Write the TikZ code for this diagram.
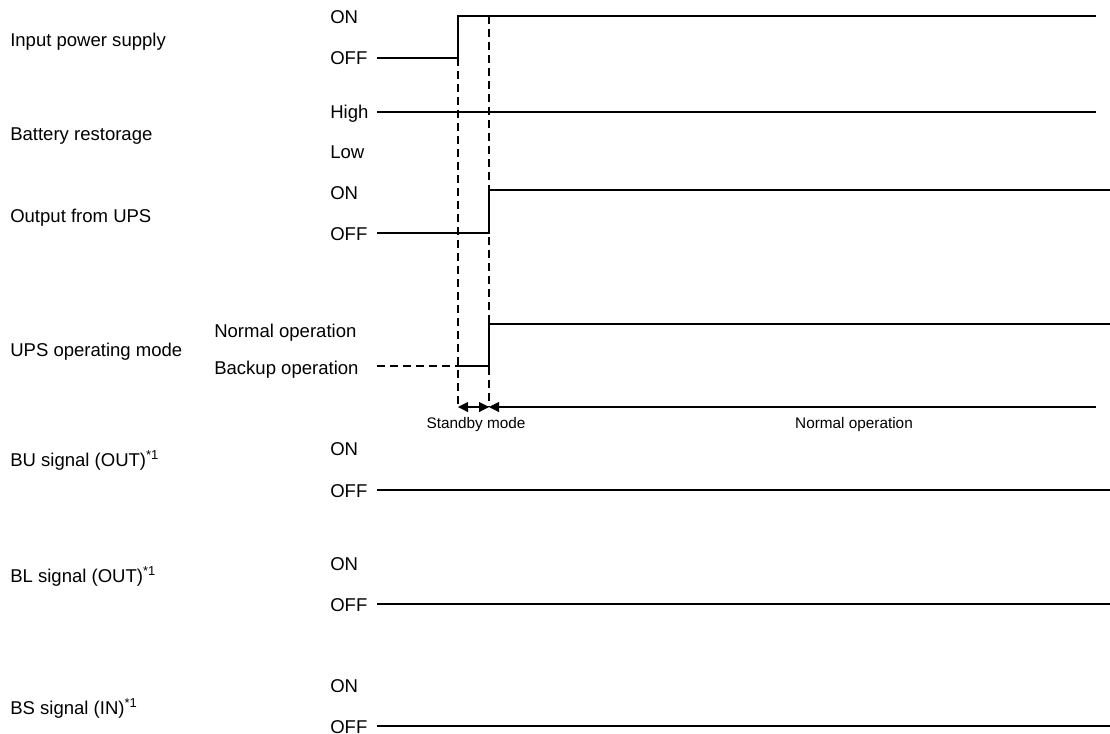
\documentclass[tikz,border=0pt]{standalone}
\usepackage{fontspec}
\setmainfont{Liberation Sans}
\usetikzlibrary{arrows.meta, positioning}

\begin{document}
\begin{tikzpicture}[x=0.75pt, y=-0.75pt,
    signame/.style={anchor=west, inner sep=0pt, text height=9.9pt, text depth=0pt, font=\fontsize{13.9}{16}\selectfont},
    state/.style={signame},
    note/.style={anchor=center, inner sep=0pt, text height=8.2pt, text depth=0pt, font=\fontsize{11.5}{13}\selectfont},
    wave/.style={line width=1.9pt, line join=miter},
    guide/.style={line width=1.6pt, dash pattern=on 6pt off 3.75pt},
    span/.style={line width=0.8pt, >={Triangle[length=7.5pt, width=7.5pt]}}]
    \useasboundingbox (0,0) rectangle (1110,733);

    % Signal names
    \node[signame] (inpow) at (10,40) {Input power supply};
    \node[signame] (battery) at (10,134) {Battery restorage};
    \node[signame] (output) at (10,216) {Output from UPS};
    \node[signame] (mode) at (10,349.5) {UPS operating mode};
    \node[signame] (busig) at (10,460) {BU signal (OUT)\textsuperscript{*1}};
    \node[signame] (blsig) at (10,576) {BL signal (OUT)\textsuperscript{*1}};
    \node[signame] (bssig) at (10,708) {BS signal (IN)\textsuperscript{*1}};

    % Levels
    \node[state] (inon) at (330,17) {ON};
    \node[state] (inoff) at (330,58) {OFF};
    \node[state] (bathigh) at (330,112) {High};
    \node[state] (batlow) at (330,152) {Low};
    \node[state] (outon) at (330,193) {ON};
    \node[state] (outoff) at (330,234) {OFF};
    \node[state] (normal) at (214,331) {Normal operation};
    \node[state] (backup) at (214,368) {Backup operation};
    \node[state] (buon) at (330,449) {ON};
    \node[state] (buoff) at (330,491) {OFF};
    \node[state] (blon) at (330,564) {ON};
    \node[state] (bloff) at (330,605) {OFF};
    \node[state] (bson) at (330,686) {ON};
    \node[state] (bsoff) at (330,727) {OFF};

    % Time marks
    \coordinate (t0) at (377,0);
    \coordinate (pwr) at (458,0);
    \coordinate (ups) at (489,0);
    \coordinate (inhi) at (458,16);
    \coordinate (outhi) at (489,190);
    \coordinate (modehi) at (489,324);

    % Input power supply
    \draw[wave] (t0 |- inoff) -- (pwr |- inoff) -- (inhi) -- (1096,16);
    % Battery restorage
    \draw[wave] (t0 |- bathigh) -- (1096,112);
    % Output from UPS
    \draw[wave] (t0 |- 0,233) -- (ups |- 0,233) -- (outhi) -- (1110,190);
    % UPS operating mode
    \draw[guide] (t0 |- 0,366) -- (pwr |- 0,366);
    \draw[wave] (pwr |- 0,366) -- (ups |- 0,366) -- (modehi) -- (1110,324);
    % Signals (all OFF)
    \draw[wave] (t0 |- 0,490) -- (1110,490);
    \draw[wave] (t0 |- 0,604) -- (1110,604);
    \draw[wave] (t0 |- 0,726) -- (1110,726);

    % Timing guides
    \coordinate (sbL) at (458,407);
    \coordinate (sbR) at (489,407);
    \coordinate (nrmR) at (1096,407);
    \draw[guide] (pwr |- inoff) -- (sbL);
    \draw[guide] (ups |- inhi) -- (sbR);
    \draw[span, <->] (sbL) -- (sbR);
    \draw[span, ->] (nrmR) -- (sbR);
    \node[note] (standby) at (476,423) {Standby mode};
    \node[note] (normtxt) at (854,423) {Normal operation};
\end{tikzpicture}
\end{document}
